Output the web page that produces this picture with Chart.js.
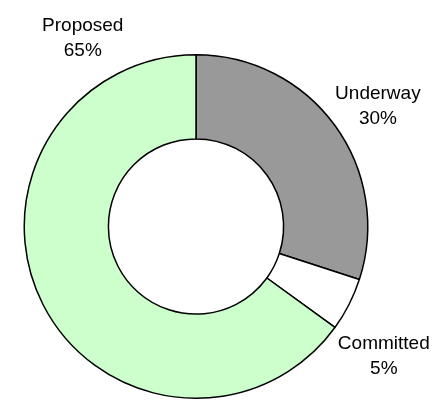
<!DOCTYPE html>
<html><head><meta charset="utf-8">
<script src="https://cdn.jsdelivr.net/npm/chart.js@4/dist/chart.umd.min.js"></script>
<style>html,body{margin:0;padding:0;background:#fff;}canvas{display:block;}</style>
</head><body>
<canvas id="c" width="434" height="400"></canvas>
<script>
const categories = ["Underway", "Committed", "Proposed"];
const values = [30, 5, 65];
const colors = ["#999999", "#FFFFFF", "#CCFFCC"];
const percentLabels = ["30%", "5%", "65%"];

const labelPlugin = {
  id: 'sliceLabels',
  afterDraw(chart, args, opts) {
    const ctx = chart.ctx;
    const meta = chart.getDatasetMeta(0);
    ctx.save();
    ctx.font = opts.font;
    ctx.fillStyle = '#000';
    ctx.textAlign = 'center';
    ctx.textBaseline = 'middle';
    meta.data.forEach((arc, i) => {
      const p = opts.place[i];
      const a = p.angle * Math.PI / 180;
      const r = arc.outerRadius * p.dist;
      const x = arc.x + Math.sin(a) * r;
      const y = arc.y - Math.cos(a) * r;
      ctx.fillText(categories[i], x, y - opts.lineHeight / 2);
      ctx.fillText(percentLabels[i], x, y + opts.lineHeight / 2);
    });
    ctx.restore();
  }
};

new Chart(document.getElementById('c'), {
  type: 'doughnut',
  data: {
    labels: categories,
    datasets: [{
      data: values,
      backgroundColor: colors,
      borderColor: '#000000',
      borderWidth: 1.5,
      hoverOffset: 0
    }]
  },
  options: {
    responsive: false,
    animation: false,
    cutout: '51%',
    layout: { padding: { left: 23, right: 65, top: 54, bottom: 1 } },
    plugins: {
      legend: { display: false },
      tooltip: { enabled: false },
      sliceLabels: {
        font: '19px "Liberation Sans", Arial, sans-serif',
        lineHeight: 25,
        place: [
          { angle: 56.5, dist: 1.27 },
          { angle: 124.7, dist: 1.33 },
          { angle: 329, dist: 1.28 }
        ]
      }
    }
  },
  plugins: [labelPlugin]
});
</script>
</body></html>
